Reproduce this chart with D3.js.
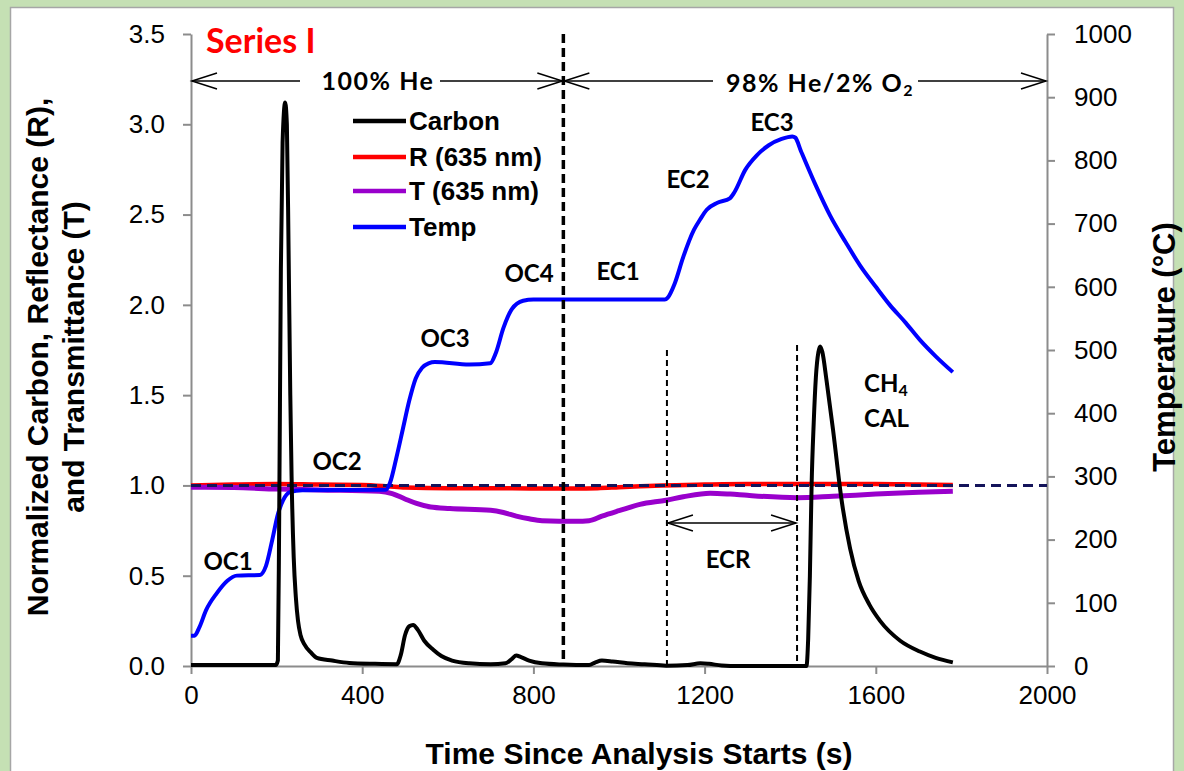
<!DOCTYPE html>
<html><head><meta charset="utf-8">
<script src="https://cdn.jsdelivr.net/npm/d3@7/dist/d3.min.js"></script>
<style>
html,body{margin:0;padding:0;background:#c5e0b4;}
svg{display:block;}
</style></head>
<body>
<svg id="chart" width="1184" height="771"></svg>
<script>
// ---------- data ----------
const xTicks = [0, 400, 800, 1200, 1600, 2000];
const leftTicks = [0, 0.5, 1.0, 1.5, 2.0, 2.5, 3.0, 3.5];
const rightTicks = [0, 100, 200, 300, 400, 500, 600, 700, 800, 900, 1000];

const carbonTime = [0, 100, 198, 203, 206, 210, 214, 220, 224, 228, 232, 235, 240, 245, 250, 256, 265, 280, 294, 330, 370, 430, 481, 490, 500, 510, 519, 530, 545, 566, 585, 610, 650, 700, 735, 750, 760, 770, 790, 820, 870, 930, 945, 960, 985, 1020, 1060, 1110, 1160, 1190, 1210, 1240, 1280, 1438, 1442, 1446, 1450, 1455, 1460, 1466, 1470, 1475, 1485, 1500, 1520, 1540, 1560, 1585, 1610, 1657, 1703, 1740, 1780];
const carbonValue = [0.005, 0.005, 0.005, 0.03, 0.8, 2.2, 2.9, 3.12, 3.0, 2.3, 1.5, 1.05, 0.6, 0.38, 0.25, 0.17, 0.12, 0.075, 0.045, 0.03, 0.017, 0.012, 0.01, 0.06, 0.17, 0.22, 0.227, 0.2, 0.14, 0.09, 0.055, 0.03, 0.015, 0.01, 0.015, 0.04, 0.058, 0.05, 0.03, 0.015, 0.008, 0.005, 0.02, 0.03, 0.025, 0.015, 0.01, 0.002, 0.005, 0.015, 0.012, 0.003, 0.0, 0.0, 0.15, 0.5, 1.0, 1.35, 1.6, 1.74, 1.77, 1.74, 1.58, 1.31, 0.92, 0.65, 0.47, 0.34, 0.25, 0.14, 0.08, 0.045, 0.02];

const reflTime = [0, 100, 200, 300, 400, 460, 500, 600, 700, 800, 900, 950, 1000, 1050, 1100, 1200, 1300, 1400, 1500, 1600, 1700, 1780];
const reflValue = [1.0, 1.005, 1.008, 1.005, 1.003, 0.995, 0.988, 0.985, 0.985, 0.983, 0.983, 0.985, 0.99, 0.995, 1.0, 1.005, 1.008, 1.008, 1.008, 1.008, 1.005, 1.003];

const transTime = [0, 100, 200, 300, 440, 470, 500, 527, 560, 605, 700, 730, 760, 790, 820, 900, 930, 960, 1000, 1049, 1110, 1150, 1213, 1260, 1300, 1416, 1500, 1600, 1700, 1780];
const transValue = [0.99, 0.988, 0.98, 0.975, 0.968, 0.955, 0.925, 0.9, 0.88, 0.872, 0.862, 0.85, 0.83, 0.815, 0.805, 0.802, 0.805, 0.83, 0.86, 0.895, 0.918, 0.937, 0.957, 0.952, 0.945, 0.932, 0.94, 0.952, 0.962, 0.968];

const tempTime = [0, 8, 20, 35, 60, 85, 107, 161, 175, 190, 203, 215, 231, 260, 455, 465, 480, 495, 510, 525, 540, 555, 570, 650, 699, 712, 730, 750, 776, 800, 900, 1000, 1107, 1114, 1130, 1150, 1175, 1189, 1205, 1230, 1259, 1270, 1295, 1322, 1350, 1380, 1405, 1412, 1425, 1460, 1493, 1530, 1563, 1600, 1633, 1670, 1703, 1740, 1780];
const tempValue = [48, 48, 62, 88, 115, 135, 143, 144, 158, 200, 240, 262, 275, 278, 279, 290, 330, 375, 420, 455, 472, 479, 481, 477, 479, 495, 535, 565, 578, 580, 580, 580, 580, 583, 605, 647, 690, 706, 722, 733, 740, 750, 785, 808, 824, 834, 838, 836, 815, 760, 713, 670, 634, 600, 571, 543, 516, 490, 465];

const seriesNames = ["Carbon", "R (635 nm)", "T (635 nm)", "Temp"];
const seriesColors = ["#000000", "#ff0000", "#9900cc", "#0000ff"];
const referenceLevel = 1.0;
const phaseBounds = [0, 870, 2000];
const ecrBounds = [1112, 1416];

// ---------- layout ----------
const svg = d3.select("#chart");
const W = 1184, H = 771;
const x = d3.scaleLinear().domain([0, 2000]).range([191, 1047]);
const y = d3.scaleLinear().domain([0, 3.5]).range([666, 34]);
const yT = d3.scaleLinear().domain([0, 1000]).range([666, 34]);

svg.append("rect").attr("x", 0).attr("y", 0).attr("width", W).attr("height", H).attr("fill", "#c5e0b4");
svg.append("rect").attr("x", 10.5).attr("y", 7.5).attr("width", 1163).attr("height", 780)
  .attr("fill", "#ffffff").attr("stroke", "#a6a6a6").attr("stroke-width", 1.5);

const axisColor = "#8c8c8c";
const tickFont = "'Liberation Sans', Arial, sans-serif";
function styleAxis(g) {
  g.select(".domain").attr("stroke", axisColor).attr("stroke-width", 2);
  g.selectAll(".tick line").attr("stroke", axisColor).attr("stroke-width", 2);
  g.selectAll(".tick text").attr("fill", "#000").attr("font-size", 26).attr("font-family", tickFont);
}
svg.append("g").attr("transform", "translate(191,0)")
  .call(d3.axisLeft(y).tickValues(leftTicks).tickFormat(d3.format(".1f")).tickSize(8).tickSizeOuter(0).tickPadding(18))
  .call(styleAxis);
svg.append("g").attr("transform", "translate(1047,0)")
  .call(d3.axisRight(yT).tickValues(rightTicks).tickFormat(d3.format("d")).tickSize(8).tickSizeOuter(0).tickPadding(19))
  .call(styleAxis);
svg.append("g").attr("transform", "translate(0,666)")
  .call(d3.axisBottom(x).tickValues(xTicks).tickFormat(d3.format("d")).tickSize(8).tickSizeOuter(0).tickPadding(12))
  .call(styleAxis);

// axis titles
const titleFont = "'Liberation Sans', Arial, sans-serif";
svg.append("text").attr("x", 639).attr("y", 764).attr("text-anchor", "middle")
  .attr("font-family", titleFont).attr("font-weight", "bold").attr("font-size", 30)
  .text("Time Since Analysis Starts (s)");
const lt = svg.append("text").attr("transform", "translate(0,357) rotate(-90)").attr("text-anchor", "middle")
  .attr("font-family", titleFont).attr("font-weight", "bold").attr("font-size", 30);
lt.append("tspan").attr("x", 0).attr("y", 48).text("Normalized Carbon, Reflectance (R),");
lt.append("tspan").attr("x", 0).attr("y", 84).text("and Transmittance (T)");
svg.append("text").attr("transform", "translate(1175,347) rotate(-90)").attr("text-anchor", "middle")
  .attr("font-family", titleFont).attr("font-weight", "bold").attr("font-size", 31)
  .text("Temperature (°C)");

// ---------- lines ----------
const zip = (ts, vs) => ts.map((t, i) => [t, vs[i]]);
const lineL = d3.line().x(d => x(d[0])).y(d => y(d[1])).curve(d3.curveMonotoneX);
const lineT = d3.line().x(d => x(d[0])).y(d => yT(d[1])).curve(d3.curveMonotoneX);

svg.append("path").attr("d", lineL(zip(reflTime, reflValue))).attr("fill", "none")
  .attr("stroke", seriesColors[1]).attr("stroke-width", 4.5);
svg.append("path").attr("d", lineL(zip(transTime, transValue))).attr("fill", "none")
  .attr("stroke", seriesColors[2]).attr("stroke-width", 5);
svg.append("line").attr("x1", x(0)).attr("x2", x(2000)).attr("y1", y(referenceLevel)).attr("y2", y(referenceLevel))
  .attr("stroke", "#14145a").attr("stroke-width", 3).attr("stroke-dasharray", "10,6");
svg.append("path").attr("d", lineT(zip(tempTime, tempValue))).attr("fill", "none")
  .attr("stroke", seriesColors[3]).attr("stroke-width", 4).attr("stroke-linejoin", "round");
svg.append("path").attr("d", lineL(zip(carbonTime, carbonValue))).attr("fill", "none")
  .attr("stroke", seriesColors[0]).attr("stroke-width", 4).attr("stroke-linejoin", "round");

// vertical dashed lines
svg.append("line").attr("x1", x(phaseBounds[1])).attr("x2", x(phaseBounds[1])).attr("y1", 34).attr("y2", 666)
  .attr("stroke", "#000").attr("stroke-width", 3.5).attr("stroke-dasharray", "9,5");
ecrBounds.forEach((t, i) => {
  svg.append("line").attr("x1", x(t)).attr("x2", x(t)).attr("y1", i === 0 ? 350 : 345).attr("y2", 666)
    .attr("stroke", "#000").attr("stroke-width", 2).attr("stroke-dasharray", "6,4");
});

// arrows
function arrowHead(px, py, dir) {
  svg.append("path").attr("d", `M${px - dir * 25},${py - 8} L${px},${py} L${px - dir * 25},${py + 8}`)
    .attr("fill", "none").attr("stroke", "#000").attr("stroke-width", 1.5);
}
function hline(x1, x2, py) {
  svg.append("line").attr("x1", x1).attr("x2", x2).attr("y1", py).attr("y2", py).attr("stroke", "#000").attr("stroke-width", 1.5);
}
const ay = 81;
hline(x(phaseBounds[0]) + 1, 300, ay); hline(440, x(phaseBounds[1]) - 1, ay);
arrowHead(x(phaseBounds[0]) + 1, ay, -1); arrowHead(x(phaseBounds[1]) - 1, ay, 1);
hline(x(phaseBounds[1]) + 1, 713, ay); hline(918, x(phaseBounds[2]) - 1, ay);
arrowHead(x(phaseBounds[1]) + 1, ay, -1); arrowHead(x(phaseBounds[2]) - 1, ay, 1);
hline(x(ecrBounds[0]) + 1, x(ecrBounds[1]) - 1, 523);
arrowHead(x(ecrBounds[0]) + 1, 523, -1); arrowHead(x(ecrBounds[1]) - 1, 523, 1);

// annotations
const annFont = "Lato, 'Open Sans', sans-serif";
function ann(tx, ty, txt, anchor, size, ls) {
  return svg.append("text").attr("x", tx).attr("y", ty).attr("text-anchor", anchor || "middle")
    .attr("dominant-baseline", "central").attr("letter-spacing", ls || 0)
    .attr("font-family", annFont).attr("font-weight", "bold").attr("font-size", size || 24).attr("fill", "#000").text(txt);
}
ann(378, 80, "100% He", "middle", 25, 1.5);
const o2 = ann(820, 82, "98% He/2% O", "middle", 25, 1.5);
o2.append("tspan").attr("font-size", 16).attr("dy", 7).text("2");
ann(228, 560, "OC1");
ann(337, 460, "OC2");
ann(445, 337, "OC3");
ann(529, 272, "OC4");
ann(618, 270, "EC1");
ann(688, 178, "EC2");
ann(772, 121, "EC3");
ann(728, 558, "ECR");
const ch4 = ann(864, 382, "CH", "start");
ch4.append("tspan").attr("font-size", 16).attr("dy", 7).text("4");
ann(864, 417, "CAL", "start");

svg.append("text").attr("x", 206).attr("y", 53).attr("font-family", annFont).attr("font-weight", "bold")
  .attr("font-size", 34).attr("fill", "#ff0000").text("Series I");

// legend
const legY = [121, 157, 191, 227];
seriesNames.forEach((n, i) => {
  svg.append("line").attr("x1", 353).attr("x2", 406).attr("y1", legY[i]).attr("y2", legY[i])
    .attr("stroke", seriesColors[i]).attr("stroke-width", 4.5);
  svg.append("text").attr("x", 409).attr("y", legY[i]).attr("dominant-baseline", "central")
    .attr("font-family", titleFont).attr("font-weight", "bold").attr("font-size", 26).text(n);
});
</script>
</body></html>
